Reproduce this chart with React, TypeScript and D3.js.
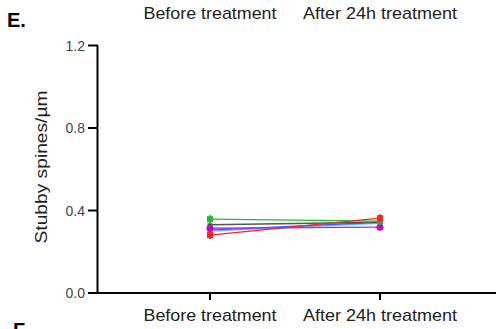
import React from "react";
import * as d3 from "d3";

const categories = ["Before treatment", "After 24h treatment"];
const yTicks = [0.0, 0.4, 0.8, 1.2];
const seriesNames = ["green", "gray", "blue", "lightblue", "purple", "red"];
const seriesColors = ["#22bb22", "#555555", "#3366ff", "#66ccff", "#9933ff", "#ff2222"];
const beforeValues = [0.358, 0.331, 0.305, 0.300, 0.314, 0.281];
const afterValues = [0.348, 0.343, 0.343, 0.338, 0.319, 0.363];
const markerShapes = ["square", "none", "none", "none", "circle", "square"];

export default function App() {
  const W = 496, H = 329;
  const x = d3.scalePoint<string>().domain(categories).range([210, 380]);
  const y = d3.scaleLinear().domain([0, 1.2]).range([293, 45.5]);
  const line = d3.line<[string, number]>().x(d => x(d[0])!).y(d => y(d[1]));
  const font = "'Liberation Sans', Arial, sans-serif";
  const order = [3, 2, 4, 1, 0, 5];
  return (
    <svg width={W} height={H} style={{ position: "absolute", left: 0, top: 0, background: "#fff" }} fontFamily={font}>
      <text x={7} y={27} fontSize={20} fontWeight="bold">E.</text>
      <text x={13} y={337} fontSize={20} fontWeight="bold">F</text>
      {categories.map((c, i) => (
        <text key={"t" + i} x={x(c)} y={19} fontSize={17} textAnchor="middle" fill="#222"
          textLength={i === 0 ? 133 : 154} lengthAdjust="spacingAndGlyphs">{c}</text>
      ))}
      <line x1={97.5} x2={97.5} y1={y(1.2)} y2={y(0)} stroke="#000" strokeWidth={2} />
      <line x1={88} x2={496} y1={y(0)} y2={y(0)} stroke="#000" strokeWidth={2} />
      {yTicks.map((t, i) => (
        <g key={"y" + i}>
          <line x1={88} x2={98} y1={y(t)} y2={y(t)} stroke="#000" strokeWidth={2} />
          <text x={85} y={y(t) + 5} fontSize={14} textAnchor="end" fill="#444">{t.toFixed(1)}</text>
        </g>
      ))}
      {categories.map((c, i) => (
        <g key={"x" + i}>
          <line x1={x(c)} x2={x(c)} y1={y(0)} y2={y(0) + 7} stroke="#000" strokeWidth={2} />
          <text x={x(c)} y={321} fontSize={17} textAnchor="middle" fill="#222"
            textLength={i === 0 ? 133 : 154} lengthAdjust="spacingAndGlyphs">{c}</text>
        </g>
      ))}
      <text transform={`translate(47,167) rotate(-90)`} fontSize={17} textAnchor="middle" fill="#222"
        textLength={153} lengthAdjust="spacingAndGlyphs">Stubby spines/µm</text>
      {order.map(i => (
        <path key={"l" + i} d={line([[categories[0], beforeValues[i]], [categories[1], afterValues[i]]])!}
          fill="none" stroke={seriesColors[i]} strokeWidth={1.3} />
      ))}
      {order.map(i => (
        <g key={"m" + i}>
          {[beforeValues[i], afterValues[i]].map((v, j) => {
            const cx = x(categories[j])!;
            const cy = y(v);
            const col = i === 4 ? "#cc00cc" : seriesColors[i];
            if (markerShapes[i] === "square")
              return (
                <g key={j}>
                  <line x1={cx} x2={cx} y1={cy - 4} y2={cy + 4} stroke={col} strokeWidth={2} />
                  <rect x={cx - 3} y={cy - 3} width={6} height={6} fill={col} />
                </g>
              );
            if (markerShapes[i] === "circle")
              return <circle key={j} cx={cx} cy={cy} r={3.5} fill={col} />;
            return <rect key={j} x={cx - 2.5} y={cy - 1.5} width={5} height={3} fill={col} />;
          })}
        </g>
      ))}
    </svg>
  );
}
